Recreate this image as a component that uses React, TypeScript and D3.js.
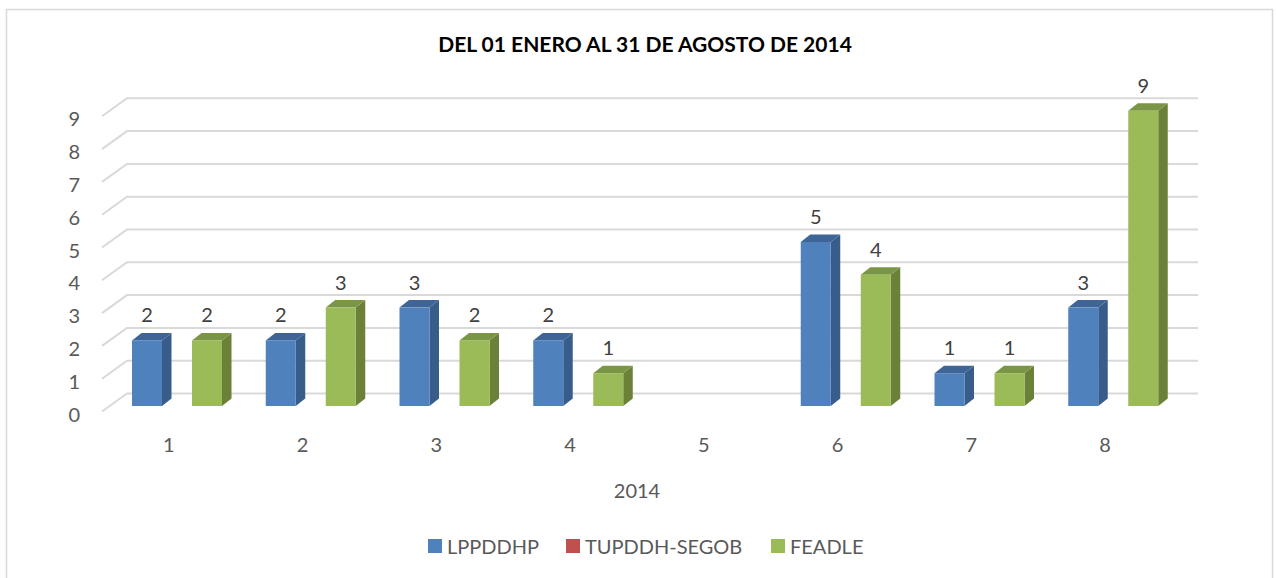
import * as d3 from "d3";

const categories = ["1", "2", "3", "4", "5", "6", "7", "8"];
const seriesNames = ["LPPDDHP", "TUPDDH-SEGOB", "FEADLE"];
const lppddhp: (number | null)[] = [2, 2, 3, 2, null, 5, 1, 3];
const tupddh: (number | null)[] = [null, null, null, null, null, null, null, null];
const feadle: (number | null)[] = [2, 3, 2, 1, null, 4, 1, 9];
const yTicks = [0, 1, 2, 3, 4, 5, 6, 7, 8, 9];

const seriesValues = [lppddhp, tupddh, feadle];
// front, side, top
const palette = [
  ["#4F81BD", "#385D8A", "#3E6596"],
  ["#C0504D", "#8C3836", "#9E403D"],
  ["#9BBB59", "#6B8138", "#7B9546"],
];

const W = 1277;
const H = 578;
const font = "Lato, 'Open Sans', sans-serif";

// floor depth (front-left corner -> back wall)
const depthX = 25;
const depthY = 18;
// bar face shift and bar depth
const barShiftX = 7.6;
const barShiftY = 5.5;
const barDX = 9.5;
const barDY = 7.5;

export default function App() {
  const x = d3.scaleBand<string>().domain(categories).range([102, 1172]);
  const inner = d3.scaleBand<number>().domain([0, 1, 2]).range([22.4, 112.4]);
  const y = d3.scaleLinear().domain([0, 9]).range([411.5, 116.3]);
  const backRight = 1198;

  const bars: JSX.Element[] = [];
  const labels: JSX.Element[] = [];
  categories.forEach((c, i) => {
    seriesValues.forEach((vals, s) => {
      const v = vals[i];
      if (v == null) return;
      const x0 = (x(c) as number) + (inner(s) as number) + barShiftX;
      const w = inner.bandwidth();
      const yb = y(0) - barShiftY;
      const yt = y(v) - barShiftY;
      const [front, side, top] = palette[s];
      bars.push(
        <g key={`b${i}-${s}`}>
          <polygon
            points={`${x0 + w},${yt} ${x0 + w + barDX},${yt - barDY} ${x0 + w + barDX},${yb - barDY} ${x0 + w},${yb}`}
            fill={side}
          />
          <polygon
            points={`${x0},${yt} ${x0 + w},${yt} ${x0 + w + barDX},${yt - barDY} ${x0 + barDX},${yt - barDY}`}
            fill={top}
          />
          <rect x={x0} y={yt} width={w} height={yb - yt} fill={front} />
        </g>
      );
      labels.push(
        <text
          key={`l${i}-${s}`}
          x={x0 + w / 2}
          y={yt - 18}
          textAnchor="middle"
          fontSize={20}
          fill="#404040"
          fontFamily={font}
        >
          {v}
        </text>
      );
    });
  });

  const legendItems = [
    { name: seriesNames[0], x: 428 },
    { name: seriesNames[1], x: 566 },
    { name: seriesNames[2], x: 771 },
  ];

  return (
    <svg
      width={W}
      height={H}
      style={{ position: "absolute", left: 0, top: 0, background: "#fff" }}
    >
      <rect x={6.5} y={9.5} width={1266} height={580} fill="#fff" stroke="#D9D9D9" strokeWidth={1.5} />
      <text
        x={645}
        y={52}
        textAnchor="middle"
        fontSize={21}
        fontWeight="bold"
        fill="#000"
        fontFamily={font}
      >
        DEL 01 ENERO AL 31 DE AGOSTO DE 2014
      </text>

      {/* gridlines */}
      {yTicks.map((t) => {
        const yf = y(t);
        return (
          <polyline
            key={`g${t}`}
            points={`${102},${yf} ${102 + depthX},${yf - depthY} ${backRight},${yf - depthY}`}
            fill="none"
            stroke="#D9D9D9"
            strokeWidth={2}
          />
        );
      })}

      {/* y labels */}
      {yTicks.map((t) => (
        <text
          key={`y${t}`}
          x={80}
          y={y(t) + 10}
          textAnchor="end"
          fontSize={20}
          fill="#595959"
          fontFamily={font}
        >
          {t}
        </text>
      ))}

      {bars}
      {labels}

      {/* category labels */}
      {categories.map((c) => (
        <text
          key={`c${c}`}
          x={(x(c) as number) + x.bandwidth() / 2}
          y={452}
          textAnchor="middle"
          fontSize={20}
          fill="#595959"
          fontFamily={font}
        >
          {c}
        </text>
      ))}
      <text x={637} y={498} textAnchor="middle" fontSize={20} fill="#595959" fontFamily={font}>
        2014
      </text>

      {/* legend */}
      {legendItems.map((it, i) => (
        <g key={`lg${i}`}>
          <rect x={it.x} y={539} width={14} height={14} fill={palette[i][0]} />
          <text x={it.x + 19} y={554} fontSize={20} fill="#595959" fontFamily={font}>
            {it.name}
          </text>
        </g>
      ))}
    </svg>
  );
}
